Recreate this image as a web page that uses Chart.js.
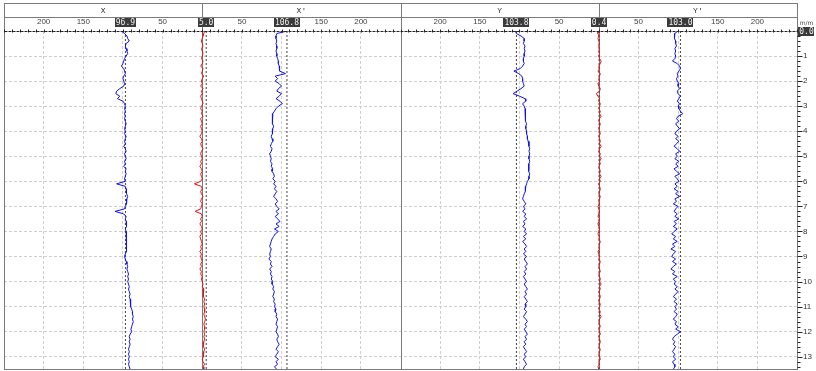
<!DOCTYPE html>
<html>
<head>
<meta charset="utf-8">
<script src="https://cdn.jsdelivr.net/npm/chart.js@4.4.0/dist/chart.umd.min.js"></script>
<style>
html,body{margin:0;padding:0;background:#fff;}
canvas{display:block;}
</style>
</head>
<body>
<canvas id="logChart" width="816" height="371"></canvas>
<script>
// depth (m), one reading every 0.1 m
var depth = [
	0,0.1,0.2,0.3,0.4,0.5,0.6,0.7,0.8,0.9,
	1,1.1,1.2,1.3,1.4,1.5,1.6,1.7,1.8,1.9,
	2,2.1,2.2,2.3,2.4,2.5,2.6,2.7,2.8,2.9,
	3,3.1,3.2,3.3,3.4,3.5,3.6,3.7,3.8,3.9,
	4,4.1,4.2,4.3,4.4,4.5,4.6,4.7,4.8,4.9,
	5,5.1,5.2,5.3,5.4,5.5,5.6,5.7,5.8,5.9,
	6,6.1,6.2,6.3,6.4,6.5,6.6,6.7,6.8,6.9,
	7,7.1,7.2,7.3,7.4,7.5,7.6,7.7,7.8,7.9,
	8,8.1,8.2,8.3,8.4,8.5,8.6,8.7,8.8,8.9,
	9,9.1,9.2,9.3,9.4,9.5,9.6,9.7,9.8,9.9,
	10,10.1,10.2,10.3,10.4,10.5,10.6,10.7,10.8,10.9,
	11,11.1,11.2,11.3,11.4,11.5,11.6,11.7,11.8,11.9,
	12,12.1,12.2,12.3,12.4,12.5,12.6,12.7,12.8,12.9,
	13,13.1,13.2,13.3,13.4,13.5
];
// X 패널 : 왼쪽 파란선(X), 가운데 빨간선, 오른쪽 파란선(X')
var xLeft = [
	102,98,95,94,92,96,97,96,95,94,
	96,98,99,100,102,99,98,97,99,100,
	99,98,99,104,108,109,104,107,100,98,
	97,98,97,98,97,98,97,96,97,98,
	97,98,96,97,98,97,99,97,96,98,
	97,96,98,97,99,96,97,96,97,98,
	97,108,97,96,95,96,94,95,96,95,
	97,98,110,99,96,97,96,95,96,97,
	96,95,96,95,96,95,96,95,96,97,
	98,97,96,95,94,95,94,93,94,93,
	94,93,92,93,92,91,92,91,90,91,
	90,89,88,88,87,88,87,88,89,90,
	89,91,92,91,92,91,92,93,92,93,
	92,93,92,93,92,91
];
var xMid = [
	3,2,1,0,-1,0,1,-1,0,1,
	0,-1,1,0,-2,1,0,-1,2,0,
	-1,0,-2,1,-1,0,-2,-1,0,1,
	-1,-2,0,-1,1,-2,-1,0,-2,-1,
	0,-1,-3,-1,0,-2,-1,1,-1,-2,
	-1,0,-2,-1,-3,-1,0,-2,-1,0,
	-2,-10,-1,0,-2,-1,1,-1,-2,0,
	-1,-2,-9,-1,0,-2,-1,-3,-1,0,
	-2,-1,-3,-2,-1,0,-2,-1,-3,-1,
	-2,-1,0,-2,-1,-3,-1,-2,0,-1,
	0,1,0,2,1,2,1,3,2,3,
	2,3,3,2,3,4,3,2,3,3,
	2,3,2,3,2,1,2,3,2,1,
	2,0,1,3,1,2
];
var xRight = [
	107,94,93,93,94,93,94,94,93,94,
	94,95,96,96,97,98,97,105,92,95,
	92,97,100,96,94,100,97,93,98,101,
	96,93,91,89,89,88,89,88,90,89,
	88,89,87,88,89,87,86,88,87,85,
	86,87,86,88,87,89,88,90,91,89,
	92,90,93,91,94,92,90,93,95,92,
	94,97,93,96,92,95,98,93,97,91,
	96,92,90,88,87,86,85,87,86,85,
	86,84,87,86,88,85,87,86,88,87,
	89,88,90,89,91,90,89,91,90,92,
	91,93,92,94,93,95,94,93,95,94,
	93,95,96,94,95,97,95,93,96,94,
	92,96,93,95,91,94
];
// Y 패널
var yLeft = [
	105,104,98,94,94,95,93,94,93,94,
	94,95,95,94,96,99,107,101,97,96,
	96,95,94,98,103,108,100,93,92,96,
	94,93,93,92,93,92,92,91,92,92,
	91,91,90,90,89,88,88,87,88,87,
	88,88,87,88,89,88,88,87,88,88,
	90,91,92,93,92,94,95,96,94,92,
	95,93,96,92,94,91,95,93,96,92,
	94,91,95,92,96,93,91,94,92,95,
	91,94,92,90,93,91,94,92,95,93,
	91,94,92,90,93,91,94,92,90,93,
	92,94,91,93,95,92,90,93,91,94,
	92,90,93,91,94,92,95,93,91,94,
	92,95,93,91,94,95
];
var yMid = [
	-1,-1,0,-1,0,1,0,1,0,1,
	0,1,3,2,0,1,-1,2,1,0,
	1,-1,0,2,1,-3,-1,1,0,2,
	1,0,2,1,3,1,0,2,1,0,
	1,2,0,1,2,1,3,1,0,2,
	1,3,1,2,0,1,2,1,3,1,
	2,0,1,2,1,0,2,1,0,1,
	-1,0,1,0,-1,1,0,-1,0,1,
	0,-1,1,0,2,1,0,1,-1,0,
	1,0,2,1,0,1,2,0,1,2,
	1,3,1,2,0,1,2,1,0,2,
	1,0,2,1,3,1,0,1,2,0,
	1,2,0,1,2,1,0,2,1,0,
	1,2,0,1,-1,0
];
var yRight = [
	100,96,95,96,97,97,98,96,97,96,
	97,96,93,99,102,103,101,99,100,98,
	99,101,100,102,99,100,103,101,99,102,
	100,101,103,106,100,98,101,97,99,102,
	98,96,100,97,101,98,95,99,102,97,
	99,96,101,97,100,95,98,102,96,99,
	101,96,99,95,100,97,102,96,98,94,
	100,97,95,99,96,101,95,98,94,99,
	95,92,97,94,99,93,96,91,97,94,
	92,97,93,98,94,91,96,93,99,94,
	97,95,99,96,100,97,94,98,95,99,
	96,98,95,99,97,94,98,96,100,97,
	103,99,95,93,96,94,97,95,93,96,
	94,97,93,95,96,94
];
// 박스에 표시되는 평균값
var xMeans = [96.9, 5.0, 106.8];
var yMeans = [103.8, 0.4, 103.0];
var panelTitles = ['X', "X'", 'Y', "Y'"];
var xTicks = [-200,-150,-100,-50,0,50,100,150,200,300,350,400,450,500,550,600,650,700];
var depthTicks = [0,1,2,3,4,5,6,7,8,9,10,11,12,13];
var depthMax = 13.53;

// 패널 중심 (X=0, Y=500), 왼쪽은 반대 방향
var centers = [0, 500];
var sides = [-1, 1, 1];

function curve(vals, center, sign, color){
	return {
		data: depth.map(function(d, i){ return {x: center + sign*vals[i], y: d}; }),
		borderColor: color,
		borderWidth: 1,
		pointRadius: 0,
		fill: false
	};
}
function meanLine(v, center, sign){
	var px = center + sign*v;
	return {
		data: [{x: px, y: 0}, {x: px, y: depthMax}],
		borderColor: '#444',
		borderWidth: 1,
		borderDash: [2, 2],
		pointRadius: 0,
		fill: false
	};
}

var datasets = [
	curve(xLeft, centers[0], -1, '#1010e8'),
	curve(xMid, centers[0], 1, '#e81010'),
	curve(xRight, centers[0], 1, '#1010e8'),
	curve(yLeft, centers[1], -1, '#1010e8'),
	curve(yMid, centers[1], 1, '#e81010'),
	curve(yRight, centers[1], 1, '#1010e8')
];
xMeans.forEach(function(m, i){ datasets.push(meanLine(m, centers[0], sides[i])); });
yMeans.forEach(function(m, i){ datasets.push(meanLine(m, centers[1], sides[i])); });

function xLabel(v){
	var c = v < 250 ? 0 : 500;
	var a = Math.abs(v - c);
	if(a == 0 || a == 100 || a == 250) return '';
	return String(a);
}

//틀, 헤더, 값 박스 그리기
var framePlugin = {
	id: 'frame',
	beforeDatasetsDraw: function(chart){
		var ctx = chart.ctx, a = chart.chartArea, xs = chart.scales.x;
		ctx.save();
		ctx.strokeStyle = '#7a7a7a';
		ctx.lineWidth = 1;
		[0, 250, 500].forEach(function(v){
			var px = Math.round(xs.getPixelForValue(v)) + 0.5;
			ctx.beginPath(); ctx.moveTo(px, 3); ctx.lineTo(px, a.bottom); ctx.stroke();
		});
		ctx.restore();
	},
	afterDraw: function(chart){
		var ctx = chart.ctx, a = chart.chartArea, xs = chart.scales.x, ys = chart.scales.y;
		var L = a.left + 0.5, R = Math.round(a.right) + 0.5, T = Math.round(a.top) + 0.5, B = Math.round(a.bottom) - 0.5;
		ctx.save();
		// 바깥 테두리
		ctx.strokeStyle = '#7a7a7a';
		ctx.lineWidth = 1;
		ctx.strokeRect(L, 3.5, R - L, B - 3.5);
		ctx.beginPath(); ctx.moveTo(L, 17.5); ctx.lineTo(R, 17.5); ctx.stroke();
		// 제목
		ctx.fillStyle = '#333';
		ctx.font = '8px "Liberation Mono"';
		ctx.textAlign = 'center';
		ctx.textBaseline = 'middle';
		[-125, 125, 375, 625].forEach(function(v, i){
			ctx.fillText(panelTitles[i], xs.getPixelForValue(v), 10.5);
		});
		// 상단 축선 + 작은 눈금
		ctx.strokeStyle = '#222';
		ctx.setLineDash([3, 1]);
		ctx.beginPath(); ctx.moveTo(L, T); ctx.lineTo(R, T); ctx.stroke();
		ctx.setLineDash([]);
		ctx.beginPath();
		for(var v = -250; v <= 750; v += 10){
			var px = Math.round(xs.getPixelForValue(v)) + 0.5;
			ctx.moveTo(px, T - 2); ctx.lineTo(px, T + 1);
		}
		ctx.stroke();
		// 오른쪽 깊이축 눈금
		ctx.beginPath();
		for(var d = 0; d <= 67; d++){
			var py = Math.round(ys.getPixelForValue(d/5)) + 0.5;
			ctx.moveTo(R, py); ctx.lineTo(R + (d % 5 == 0 ? 5 : 3), py);
		}
		ctx.stroke();
		// 평균값 박스
		ctx.font = '8px "DejaVu Sans Mono"';
		function box(text, cx, cy){
			var w = ctx.measureText(text).width + 2;
			ctx.fillStyle = '#3a3a3a';
			ctx.fillRect(Math.round(cx - w/2), cy - 4.5, Math.round(w), 9);
			ctx.fillStyle = '#f0f0f0';
			ctx.textAlign = 'center';
			ctx.fillText(text, cx, cy + 0.5);
		}
		xMeans.forEach(function(m, i){ box(m.toFixed(1), xs.getPixelForValue(centers[0] + sides[i]*m), 22.5); });
		yMeans.forEach(function(m, i){ box(m.toFixed(1), xs.getPixelForValue(centers[1] + sides[i]*m), 22.5); });
		box(depthTicks[0].toFixed(1), R + 9, T);
		// 단위
		ctx.fillStyle = '#444';
		ctx.font = '6px "DejaVu Sans"';
		ctx.fillText('m/m', R + 9, 23);
		ctx.restore();
	}
};

new Chart(document.getElementById('logChart'), {
	type: 'line',
	data: {datasets: datasets},
	options: {
		responsive: false,
		animation: false,
		events: [],
		layout: {padding: {left: 4, top: 17, right: 0, bottom: 1}},
		plugins: {legend: {display: false}, tooltip: {enabled: false}},
		elements: {line: {tension: 0}},
		scales: {
			x: {
				type: 'linear',
				position: 'top',
				min: -250,
				max: 750,
				afterBuildTicks: function(s){ s.ticks = xTicks.map(function(v){ return {value: v}; }); },
				afterFit: function(s){ s.height = 14; s.paddingLeft = 0; s.paddingRight = 0; },
				ticks: {
					autoSkip: false,
					maxRotation: 0,
					padding: 4,
					color: '#444',
					font: {size: 8, family: '"Liberation Sans", Arial'},
					callback: function(v){ return xLabel(v); }
				},
				grid: {
					drawTicks: false,
					color: function(c){ return (c.tick && (c.tick.value == 0 || c.tick.value == 500)) ? 'rgba(0,0,0,0)' : '#cfcfcf'; }
				},
				border: {display: false, dash: [3, 2]}
			},
			y: {
				type: 'linear',
				position: 'right',
				reverse: true,
				min: 0,
				max: depthMax,
				afterBuildTicks: function(s){ s.ticks = depthTicks.map(function(v){ return {value: v}; }); },
				afterFit: function(s){ s.width = 19; s.paddingTop = 0; s.paddingBottom = 0; },
				ticks: {
					autoSkip: false,
					padding: 6,
					color: '#333',
					font: {size: 8, family: '"Liberation Sans", Arial'},
					callback: function(v){ return v == 0 ? '' : String(v); }
				},
				grid: {
					drawTicks: false,
					color: function(c){ return (c.tick && c.tick.value == 0) ? 'rgba(0,0,0,0)' : '#cfcfcf'; }
				},
				border: {display: false, dash: [3, 2]}
			}
		}
	},
	plugins: [framePlugin]
});
</script>
</body>
</html>
